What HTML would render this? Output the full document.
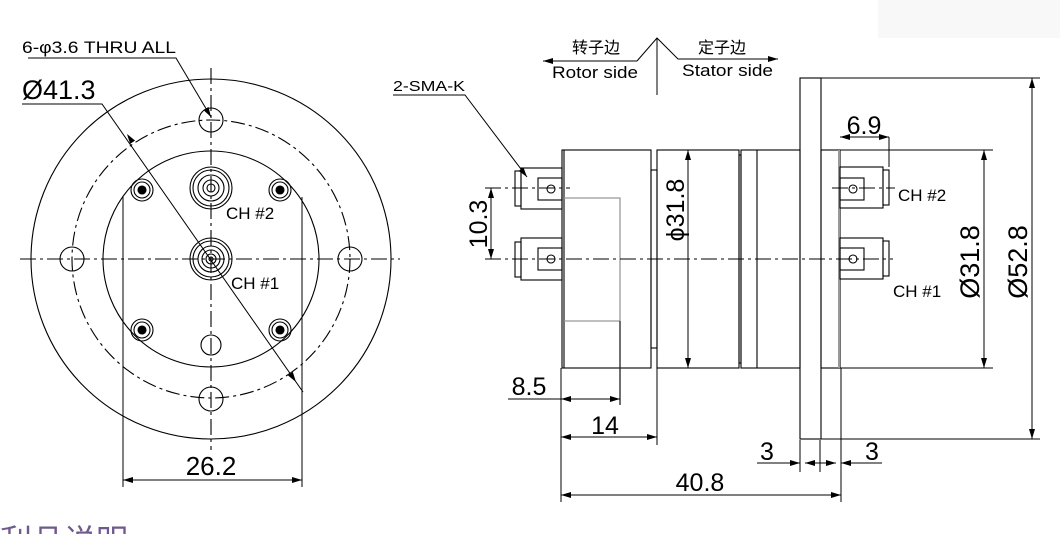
<!DOCTYPE html>
<html><head><meta charset="utf-8"><style>
html,body{margin:0;padding:0;background:#fff;width:1060px;height:534px;overflow:hidden}
svg{display:block}
text{font-family:"Liberation Sans","Noto Sans CJK SC",sans-serif;fill:#000}
</style></head><body>
<svg width="1060" height="534" viewBox="0 0 1060 534" xmlns="http://www.w3.org/2000/svg">
<defs>
<marker id="a" viewBox="0 0 10 6" refX="10" refY="3" markerWidth="10" markerHeight="6" orient="auto-start-reverse" markerUnits="userSpaceOnUse"><path d="M0,0 L10,3 L0,6 z" fill="#000"/></marker>
</defs>
<rect x="878" y="0" width="182" height="38" fill="#f8f8f8"/>
<g fill="none" stroke="#000" stroke-width="1.1">
<circle cx="211" cy="259" r="180"/>
<circle cx="211" cy="259" r="139" stroke-dasharray="14 4 3 4"/>
<circle cx="211" cy="259" r="108"/>
<circle cx="72" cy="259" r="12"/><circle cx="350" cy="259" r="12"/>
<circle cx="211" cy="120" r="12"/><circle cx="211" cy="399" r="12"/>
<circle cx="211" cy="345" r="10"/>
<line x1="20" y1="259" x2="400" y2="259" stroke-dasharray="16 4 3 4"/>
<line x1="211" y1="68" x2="211" y2="450" stroke-dasharray="16 4 3 4"/>
<g>
<circle cx="142" cy="190" r="11"/><circle cx="142" cy="190" r="8"/>
<circle cx="280" cy="190" r="11"/><circle cx="280" cy="190" r="8"/>
<circle cx="142" cy="330" r="11"/><circle cx="142" cy="330" r="8"/>
<circle cx="280" cy="330" r="11"/><circle cx="280" cy="330" r="8"/>
</g>
<circle cx="142" cy="190" r="4" fill="#000"/><circle cx="280" cy="190" r="4" fill="#000"/>
<circle cx="142" cy="330" r="4" fill="#000"/><circle cx="280" cy="330" r="4" fill="#000"/>
<circle cx="211" cy="188" r="21"/><circle cx="211" cy="188" r="18"/><circle cx="211" cy="188" r="13"/><circle cx="211" cy="188" r="8"/><circle cx="211" cy="188" r="4"/>
<circle cx="211" cy="259" r="21"/><circle cx="211" cy="259" r="18"/><circle cx="211" cy="259" r="13"/><circle cx="211" cy="259" r="9"/><circle cx="211" cy="259" r="5"/><circle cx="211" cy="259" r="2"/>
<line x1="123" y1="197" x2="123" y2="487" stroke-width="1"/>
<line x1="302" y1="197" x2="302" y2="487" stroke-width="1"/>
<line x1="123" y1="480" x2="302" y2="480" stroke-width="1" marker-start="url(#a)" marker-end="url(#a)"/>
<polyline points="22,104 102,104 303,392" stroke-width="1"/>
<line x1="127" y1="134" x2="296" y2="382" stroke-width="0" marker-start="url(#a)" marker-end="url(#a)"/>
<polyline points="28,58 176,58 211,117" stroke-width="1" marker-end="url(#a)"/>

<rect x="562" y="150" width="89" height="218"/>
<line x1="564" y1="150" x2="564" y2="368"/>
<polyline points="564,198 620,198 620,405" stroke="#999" stroke-width="1.3"/>
<line x1="564" y1="321" x2="620" y2="321" stroke="#999" stroke-width="1.3"/>
<line x1="620" y1="321" x2="620" y2="405" stroke-width="1"/>
<rect x="651" y="170" width="6" height="178"/>
<rect x="657" y="150" width="82" height="218"/>
<rect x="739" y="155" width="2" height="208"/>
<rect x="741" y="150" width="59" height="218"/>
<line x1="757" y1="150" x2="757" y2="368"/>
<rect x="800" y="78" width="21" height="361"/>
<rect x="821" y="150" width="19" height="218"/>
<line x1="839" y1="150" x2="839" y2="368" stroke="#999" stroke-width="2"/>
<rect x="521" y="168" width="41" height="41"/><rect x="515" y="171" width="6" height="35"/><rect x="538" y="178" width="24" height="22"/><circle cx="551" cy="189" r="4"/>
<rect x="521" y="238" width="41" height="42"/><rect x="515" y="242" width="6" height="35"/><rect x="538" y="248" width="24" height="22"/><circle cx="551" cy="259" r="4"/>
<rect x="840" y="167" width="43" height="41"/><rect x="883" y="170" width="6" height="35"/><rect x="840" y="178" width="24" height="22"/><circle cx="853" cy="189" r="4"/>
<rect x="840" y="238" width="43" height="41"/><rect x="883" y="241" width="6" height="35"/><rect x="840" y="248" width="24" height="22"/><circle cx="853" cy="259" r="4"/>
<line x1="485" y1="259" x2="893" y2="259" stroke-width="1" stroke-dasharray="16 4 3 4"/>
<line x1="485" y1="188" x2="570" y2="188" stroke-width="1" stroke-dasharray="16 4 3 4"/>
<line x1="832" y1="188" x2="895" y2="188" stroke-width="1" stroke-dasharray="16 4 3 4"/>
<g stroke-width="1">
<line x1="491" y1="188" x2="491" y2="259" marker-start="url(#a)" marker-end="url(#a)"/>
<line x1="688" y1="150" x2="688" y2="368" marker-start="url(#a)" marker-end="url(#a)"/>
<line x1="840" y1="150" x2="993" y2="150"/><line x1="840" y1="368" x2="993" y2="368"/>
<line x1="984" y1="150" x2="984" y2="368" marker-start="url(#a)" marker-end="url(#a)"/>
<line x1="821" y1="78" x2="1040" y2="78"/><line x1="821" y1="439" x2="1040" y2="439"/>
<line x1="1032" y1="78" x2="1032" y2="439" marker-start="url(#a)" marker-end="url(#a)"/>
<line x1="889" y1="137" x2="889" y2="167"/>
<line x1="840" y1="137" x2="889" y2="137" marker-start="url(#a)" marker-end="url(#a)"/>
<line x1="561" y1="368" x2="561" y2="502"/>
<line x1="508" y1="399" x2="561" y2="399"/>
<line x1="561" y1="399" x2="620" y2="399" marker-start="url(#a)" marker-end="url(#a)"/>
<line x1="657" y1="368" x2="657" y2="445"/>
<line x1="561" y1="437" x2="657" y2="437" marker-start="url(#a)" marker-end="url(#a)"/>
<line x1="841" y1="368" x2="841" y2="502"/>
<line x1="561" y1="495" x2="841" y2="495" marker-start="url(#a)" marker-end="url(#a)"/>
<line x1="800" y1="440" x2="800" y2="472"/><line x1="820" y1="440" x2="820" y2="472"/>
<line x1="757" y1="463" x2="800" y2="463" marker-end="url(#a)"/>
<line x1="820" y1="463" x2="805" y2="463" marker-end="url(#a)"/>
<line x1="882" y1="463" x2="841" y2="463" marker-end="url(#a)"/>
<line x1="820" y1="463" x2="836" y2="463" marker-end="url(#a)"/>
<line x1="657" y1="38" x2="657" y2="95"/>
<polyline points="637,61 543,61" marker-end="url(#a)"/>
<polyline points="637,61 657,38 678,59 778,59" />
<line x1="700" y1="59" x2="778" y2="59" marker-end="url(#a)"/>
<polyline points="393,95 465,95 527,177" marker-end="url(#a)"/>
</g>
</g>
<text x="22" y="53" font-size="17" textLength="154" lengthAdjust="spacingAndGlyphs">6-φ3.6 THRU ALL</text>
<text x="22" y="99" font-size="27">Ø41.3</text>
<text x="226" y="219" font-size="17">CH #2</text>
<text x="231" y="289" font-size="17">CH #1</text>
<text x="211" y="475" font-size="26" text-anchor="middle">26.2</text>
<text x="596" y="53" font-size="16" text-anchor="middle">转子边</text>
<text x="722" y="53" font-size="16" text-anchor="middle">定子边</text>
<text x="552" y="78" font-size="17" textLength="86" lengthAdjust="spacingAndGlyphs">Rotor side</text>
<text x="682" y="76" font-size="17" textLength="91" lengthAdjust="spacingAndGlyphs">Stator side</text>
<text x="393" y="91" font-size="15" textLength="72" lengthAdjust="spacingAndGlyphs">2-SMA-K</text>
<text x="898" y="201" font-size="17">CH #2</text>
<text x="893" y="297" font-size="17">CH #1</text>
<text x="864" y="134" font-size="25" text-anchor="middle">6.9</text>
<text x="529" y="395" font-size="25" text-anchor="middle">8.5</text>
<text x="605" y="434" font-size="25" text-anchor="middle">14</text>
<text x="700" y="491" font-size="25" text-anchor="middle">40.8</text>
<text x="767" y="460" font-size="25" text-anchor="middle">3</text>
<text x="872" y="460" font-size="25" text-anchor="middle">3</text>
<text transform="translate(487,224) rotate(-90)" font-size="25" text-anchor="middle">10.3</text>
<text transform="translate(684,210) rotate(-90)" font-size="25" text-anchor="middle">ϕ31.8</text>
<text transform="translate(979,262) rotate(-90)" font-size="27" text-anchor="middle">Ø31.8</text>
<text transform="translate(1027,262) rotate(-90)" font-size="27" text-anchor="middle">Ø52.8</text>
<text x="0" y="552" font-size="32" style="fill:#6e5a8c">利品说明</text>
</svg>
</body></html>
